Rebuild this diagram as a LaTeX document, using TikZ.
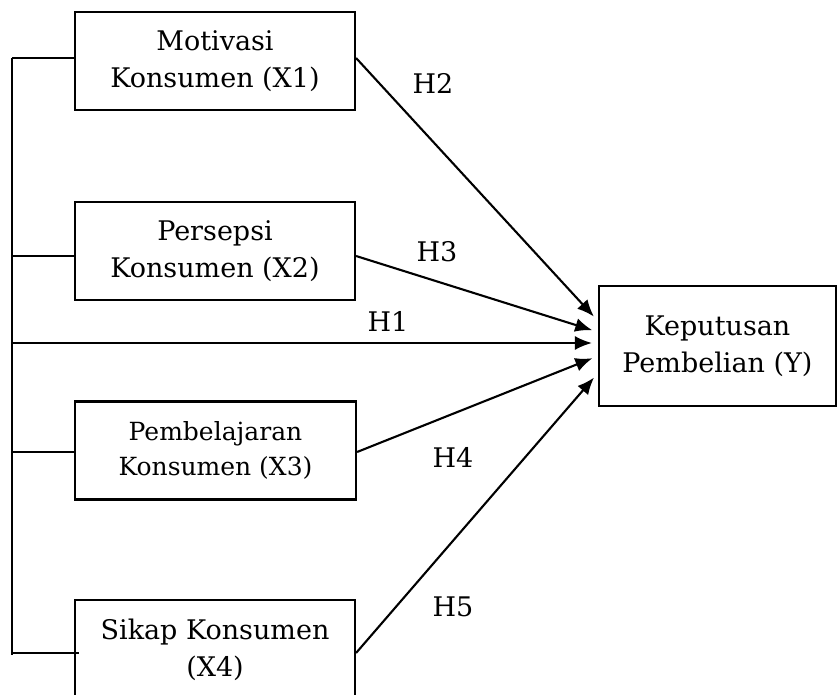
\documentclass[tikz,border=0pt]{standalone}
\usepackage{fontspec}
\setmainfont{DejaVu Serif}
\usetikzlibrary{arrows.meta}

\begin{document}
\begin{tikzpicture}[x=1pt,y=-1pt,line width=2.1pt,>={Latex[length=17pt,width=14pt]},
	var box/.style={rectangle,draw,align=center,minimum width=280pt,minimum height=98pt,inner sep=0pt,font=\fontsize{27}{37}\selectfont},
	hyp label/.style={font=\fontsize{27}{37}\selectfont}]
	\useasboundingbox (0,0) rectangle (837,695);

	\node (motivasi box) [var box] at (215,61) {Motivasi\\Konsumen (X1)};
	\node (persepsi box) [var box] at (215,251) {Persepsi\\Konsumen (X2)};
	\node (belajar box) [var box,minimum width=281pt,font=\fontsize{25}{35}\selectfont] at (215.5,450.5) {Pembelajaran\\Konsumen (X3)};
	\node (sikap box) [var box,minimum height=100pt] at (215,650) {Sikap Konsumen\\(X4)};

	\node (keputusan box) [var box,minimum width=237pt,minimum height=120pt] at (717.5,346) {Keputusan\\Pembelian (Y)};

	\coordinate (bus 1) at (12,58);
	\coordinate (bus 2) at (12,256);
	\coordinate (bus h1) at (12,343);
	\coordinate (bus 3) at (12,452);
	\coordinate (bus 4) at (12,653);
	\coordinate (bus end) at (12,655);

	\draw (bus 1) -- (bus end);
	\draw (bus 1) -- (bus 1 -| motivasi box.west);
	\draw (bus 2) -- (bus 2 -| persepsi box.west);
	\draw (bus 3) -- (bus 3 -| belajar box.west);
	\draw (bus 4) -- ([xshift=5pt]bus 4 -| sikap box.west);

	\draw[->,shorten >=6pt] (bus 1 -| motivasi box.east) -- ([yshift=25pt]keputusan box.west);
	\draw[->,shorten >=6pt] (bus 2 -| persepsi box.east) -- ([yshift=14pt]keputusan box.west);
	\draw[->,shorten >=6pt] (bus h1) -- ([yshift=3pt]keputusan box.west);
	\draw[->,shorten >=6pt] (bus 3 -| belajar box.east) -- ([yshift=-10pt]keputusan box.west);
	\draw[->,shorten >=6pt] (bus 4 -| sikap box.east) -- ([yshift=-27pt]keputusan box.west);

	\node (h1 label) [hyp label] at (388,321) {H1};
	\node (h2 label) [hyp label] at (433,83) {H2};
	\node (h3 label) [hyp label] at (437,252) {H3};
	\node (h4 label) [hyp label] at (453,457) {H4};
	\node (h5 label) [hyp label] at (453,607) {H5};
\end{tikzpicture}
\end{document}
